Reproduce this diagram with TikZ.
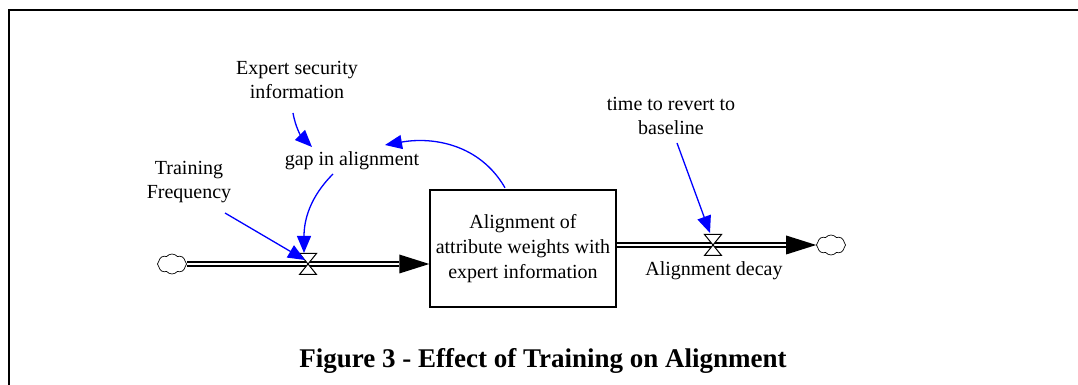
\documentclass[tikz,border=0pt]{standalone}
\usepackage{fontspec}
\setmainfont{Liberation Serif}
\usetikzlibrary{arrows.meta,shapes.symbols,calc}
\begin{document}
\begin{tikzpicture}[x=1pt,y=1pt,
  lbl/.style={font=\fontsize{20}{24}\selectfont, align=center, inner sep=0pt},
  link/.style={draw=blue, line width=1.3pt, -{Triangle[length=17pt,width=14pt]}},
  pipe/.style={draw=black, double=white, double distance=2.6pt, line width=1.4pt},
  cloudy/.style={cloud, cloud puffs=8, cloud puff arc=100, aspect=1.4, draw,
    line width=0.7pt, minimum width=29pt, minimum height=20pt, inner sep=0pt},
  stock/.style={draw, line width=1.4pt, minimum width=186pt, minimum height=117pt,
    align=center, inner sep=0pt, font=\fontsize{20}{25}\selectfont},
  valve/.style={draw=black, fill=white, line width=1pt}
]
\useasboundingbox (0,0) rectangle (1078,385);

% outer frame (top and left edges)
\draw[line width=2pt] (8.5,0) -- (8.5,374.5) -- (1078,374.5);

% stock
\node[stock] (box) at (523,136.5) {Alignment of\\attribute weights with\\expert information};

% sources / sinks and valves
\node[cloudy] (c1) at (172,121) {};
\node[cloudy] (c2) at (831,140) {};
\coordinate (v1) at (308,121);
\coordinate (v2) at (713,140);
\coordinate (in1) at (box.west |- v1);
\coordinate (out2) at (box.east |- v2);

% inflow pipe
\draw[pipe] (c1.east) -- ($(in1)+(-30,0)$);
\fill (in1) -- ++(-30,9.5) -- ++(0,-19) -- cycle;
% outflow pipe
\draw[pipe] (out2) -- ($(c2.west)+(-30,0)$);
\fill (c2.west) -- ++(-30,9.5) -- ++(0,-19) -- cycle;

% valves
\draw[valve] ($(v1)+(-8.5,10.5)$) -- ++(17,0) -- ++(-17,-21) -- ++(17,0) -- cycle;
\draw[valve] ($(v2)+(-8.5,10.5)$) -- ++(17,0) -- ++(-17,-21) -- ++(17,0) -- cycle;

% variables
\node[lbl] (exp) at (297,305) {Expert security\\information};
\node[lbl] (gap) at (352,224) {gap in alignment};
\node[lbl] (tf) at (189,203) {Training\\Frequency};
\node[lbl] (tr) at (671,269) {time to revert to\\baseline};
\node[lbl] (dec) at (714,114) {Alignment decay};

% information links
\draw[link] ($(exp.center)+(-4,-33)$) to[out=-80,in=135] ($(gap.center)+(-40,14)$);
\draw[link] ($(box.north)+(-18,1.5)$) to[out=120,in=10] ($(gap.center)+(33,16)$);
\draw[link] ($(gap.center)+(-19,-13)$) to[out=-135,in=90] ($(v1)+(-4,11)$);
\draw[link] ($(tf.center)+(36,-31)$) -- ($(v1)+(-3,4)$);
\draw[link] ($(tr.center)+(6,-27)$) -- ($(v2)+(-3,12)$);

% caption
\node[font=\bfseries\fontsize{27}{32}\selectfont, inner sep=0pt] (cap) at (543,24)
  {Figure 3 - Effect of Training on Alignment};
\end{tikzpicture}
\end{document}
